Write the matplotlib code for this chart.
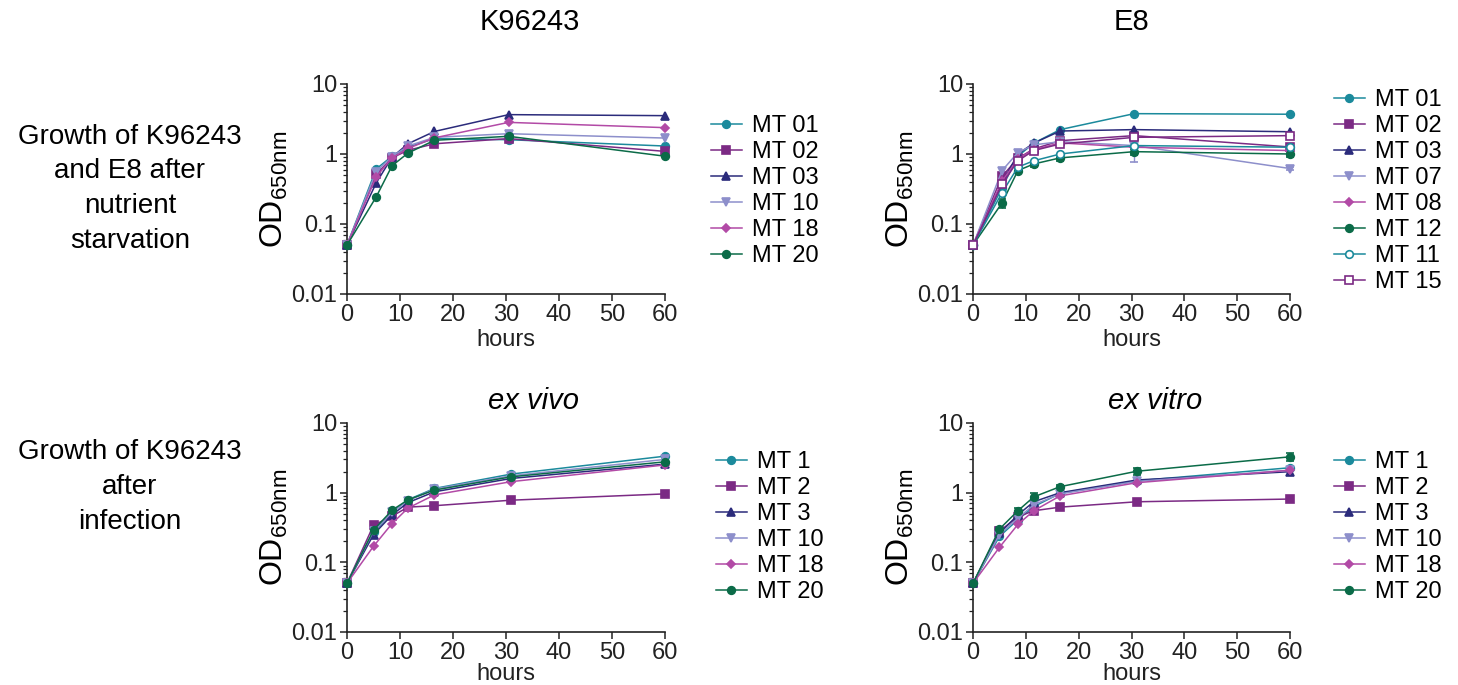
import matplotlib.pyplot as plt
from matplotlib.container import ErrorbarContainer
import numpy as np

plt.rcParams['font.family'] = ['Liberation Sans', 'DejaVu Sans']
plt.rcParams['mathtext.fontset'] = 'custom'
plt.rcParams['mathtext.rm'] = 'Liberation Sans'

# colours / markers per strain slot
TEAL = '#1b8a9c'
PURPLE = '#7b2a84'
NAVY = '#2b2b7b'
LAV = '#8d8fcb'
PINK = '#b24aa6'
GREEN = '#0b6b48'

# ---- data ----
t_starve = [0, 5.5, 8.5, 11.5, 16.5, 30.5, 60]
t_inf = [0, 5, 8.5, 11.5, 16.5, 31, 60]

# K96243, nutrient starvation
k_labels = ['MT 01', 'MT 02', 'MT 03', 'MT 10', 'MT 18', 'MT 20']
k_mt01 = [0.05, 0.61, 0.93, 1.25, 1.66, 1.60, 1.30]
k_mt02 = [0.05, 0.51, 0.88, 1.13, 1.40, 1.66, 1.09]
k_mt03 = [0.05, 0.385, 0.90, 1.40, 2.10, 3.65, 3.53]
k_mt10 = [0.05, 0.56, 0.92, 1.30, 1.73, 1.95, 1.69]
k_mt18 = [0.05, 0.47, 0.88, 1.20, 1.70, 2.83, 2.38]
k_mt20 = [0.05, 0.243, 0.68, 1.03, 1.57, 1.79, 0.93]

# E8, nutrient starvation
e_labels = ['MT 01', 'MT 02', 'MT 03', 'MT 07', 'MT 08', 'MT 12', 'MT 11', 'MT 15']
e_mt01 = [0.05, 0.33, 0.93, 1.43, 2.23, 3.77, 3.70]
e_mt02 = [0.05, 0.48, 0.87, 1.18, 1.55, 1.83, 1.26]
e_mt03 = [0.05, 0.39, 1.00, 1.43, 2.13, 2.23, 2.08]
e_mt07 = [0.05, 0.58, 1.05, 1.35, 1.50, 1.32, 0.62]
e_mt08 = [0.05, 0.41, 0.85, 1.15, 1.44, 1.25, 1.12]
e_mt12 = [0.05, 0.20, 0.58, 0.72, 0.88, 1.08, 1.00]
e_mt11 = [0.05, 0.28, 0.65, 0.80, 1.00, 1.32, 1.25]
e_mt15 = [0.05, 0.37, 0.80, 1.12, 1.39, 1.73, 1.83]
e_mt07_err = [0, 0.05, 0.1, 0.1, 0.15, 0.55, 0.03]
e_mt12_err = [0, 0.03, 0.05, 0.06, 0.08, 0.1, 0.08]

# K96243 after infection
i_labels = ['MT 1', 'MT 2', 'MT 3', 'MT 10', 'MT 18', 'MT 20']
vivo_mt1 = [0.05, 0.27, 0.52, 0.79, 1.15, 1.85, 3.34]
vivo_mt2 = [0.05, 0.34, 0.46, 0.62, 0.65, 0.78, 0.96]
vivo_mt3 = [0.05, 0.25, 0.48, 0.72, 1.03, 1.60, 2.57]
vivo_mt10 = [0.05, 0.28, 0.52, 0.77, 1.13, 1.75, 3.00]
vivo_mt18 = [0.05, 0.17, 0.36, 0.60, 0.93, 1.44, 2.50]
vivo_mt20 = [0.05, 0.29, 0.56, 0.79, 1.09, 1.69, 2.77]

vitro_mt1 = [0.05, 0.235, 0.41, 0.63, 0.98, 1.48, 2.28]
vitro_mt2 = [0.05, 0.28, 0.45, 0.55, 0.62, 0.74, 0.81]
vitro_mt3 = [0.05, 0.26, 0.48, 0.74, 1.00, 1.52, 2.00]
vitro_mt10 = [0.05, 0.25, 0.43, 0.67, 0.96, 1.45, 2.10]
vitro_mt18 = [0.05, 0.164, 0.35, 0.55, 0.90, 1.39, 2.10]
vitro_mt20 = [0.05, 0.30, 0.55, 0.87, 1.22, 2.03, 3.27]
vitro_mt20_err = [0, 0.02, 0.05, 0.12, 0.08, 0.25, 0.45]

styles6 = [(TEAL, 'o', True), (PURPLE, 's', True), (NAVY, '^', True),
           (LAV, 'v', True), (PINK, 'D', True), (GREEN, 'o', True)]
styles8 = styles6 + [(TEAL, 'o', False), (PURPLE, 's', False)]


def draw_panel(ax, t, series, labels, styles, errs=None, xlabelpad=-1):
    errs = errs or {}
    for i, (y, lab, (col, mk, filled)) in enumerate(zip(series, labels, styles)):
        ms = 4.2 if mk == 'D' else 5.5
        ax.errorbar(t, y, yerr=errs.get(i), color=col, marker=mk, ms=ms, lw=1.1,
                    mfc=col if filled else 'white', mec=col, mew=1.2,
                    capsize=3, elinewidth=1.0, label=lab, clip_on=False, zorder=3)
    ax.set_yscale('log')
    ax.set_ylim(0.01, 10)
    ax.set_xlim(0, 60)
    ax.set_xticks(range(0, 61, 10))
    ax.set_yticks([0.01, 0.1, 1, 10])
    ax.set_yticklabels(['0.01', '0.1', '1', '10'])
    ax.spines['top'].set_visible(False)
    ax.spines['right'].set_visible(False)
    for s in ('left', 'bottom'):
        ax.spines[s].set_linewidth(1.2)
        ax.spines[s].set_color('#222222')
    ax.tick_params(axis='both', which='major', direction='out', length=5, width=1.1,
                   labelsize=17, colors='#222222', labelcolor='#222222', pad=2)
    ax.tick_params(axis='y', which='minor', direction='out', length=3, width=0.9, colors='#222222')
    ax.set_xlabel('hours', fontsize=17, labelpad=xlabelpad, color='#222222')
    ax.set_ylabel(r'OD$_{\mathregular{650nm}}$', fontsize=23, labelpad=1)


W, H = 1458, 685
fig = plt.figure(figsize=(W / 100, H / 100), dpi=100)


def add_ax(l, r, top, bot):
    return fig.add_axes([l / W, 1 - bot / H, (r - l) / W, (bot - top) / H])


ax1 = add_ax(347, 665, 84, 294)
ax2 = add_ax(973, 1290, 84, 294)
ax3 = add_ax(347, 665, 423, 632)
ax4 = add_ax(973, 1290, 423, 632)

draw_panel(ax1, t_starve, [k_mt01, k_mt02, k_mt03, k_mt10, k_mt18, k_mt20], k_labels, styles6,
           xlabelpad=2)
draw_panel(ax2, t_starve, [e_mt01, e_mt02, e_mt03, e_mt07, e_mt08, e_mt12, e_mt11, e_mt15],
           e_labels, styles8, errs={3: e_mt07_err, 5: e_mt12_err}, xlabelpad=2)
draw_panel(ax3, t_inf, [vivo_mt1, vivo_mt2, vivo_mt3, vivo_mt10, vivo_mt18, vivo_mt20], i_labels, styles6,
           xlabelpad=-0.5)
draw_panel(ax4, t_inf, [vitro_mt1, vitro_mt2, vitro_mt3, vitro_mt10, vitro_mt18, vitro_mt20],
           i_labels, styles6, errs={5: vitro_mt20_err}, xlabelpad=-0.5)


def add_legend(ax, x, ycenter):
    h, l = ax.get_legend_handles_labels()
    # legend shows only the line + marker, not the error bars
    h = [hh[0] if isinstance(hh, ErrorbarContainer) else hh for hh in h]
    ax.legend(h, l, loc='center left', bbox_to_anchor=(x / W, 1 - ycenter / H),
              bbox_transform=fig.transFigure, frameon=False, fontsize=17,
              handlelength=1.3, handletextpad=0.45, labelspacing=0.17,
              borderpad=0, borderaxespad=0)


add_legend(ax1, 711, 191)
add_legend(ax2, 1334, 191)
add_legend(ax3, 716, 527)
add_legend(ax4, 1334, 527)

fig.text(530 / W, 1 - 22 / H, 'K96243', fontsize=21, ha='center', va='center')
fig.text(1132 / W, 1 - 22 / H, 'E8', fontsize=21, ha='center', va='center')
fig.text(533 / W, 1 - 401 / H, 'ex vivo', fontsize=21, style='italic', ha='center', va='center')
fig.text(1155 / W, 1 - 401 / H, 'ex vitro', fontsize=21, style='italic', ha='center', va='center')

fig.text(130 / W, 1 - 189 / H, 'Growth of K96243\nand E8 after\nnutrient\nstarvation',
         fontsize=20, ha='center', va='center', linespacing=1.45)
fig.text(130 / W, 1 - 487 / H, 'Growth of K96243\nafter\ninfection',
         fontsize=20, ha='center', va='center', linespacing=1.45)

fig.savefig('out.png', dpi=100)
